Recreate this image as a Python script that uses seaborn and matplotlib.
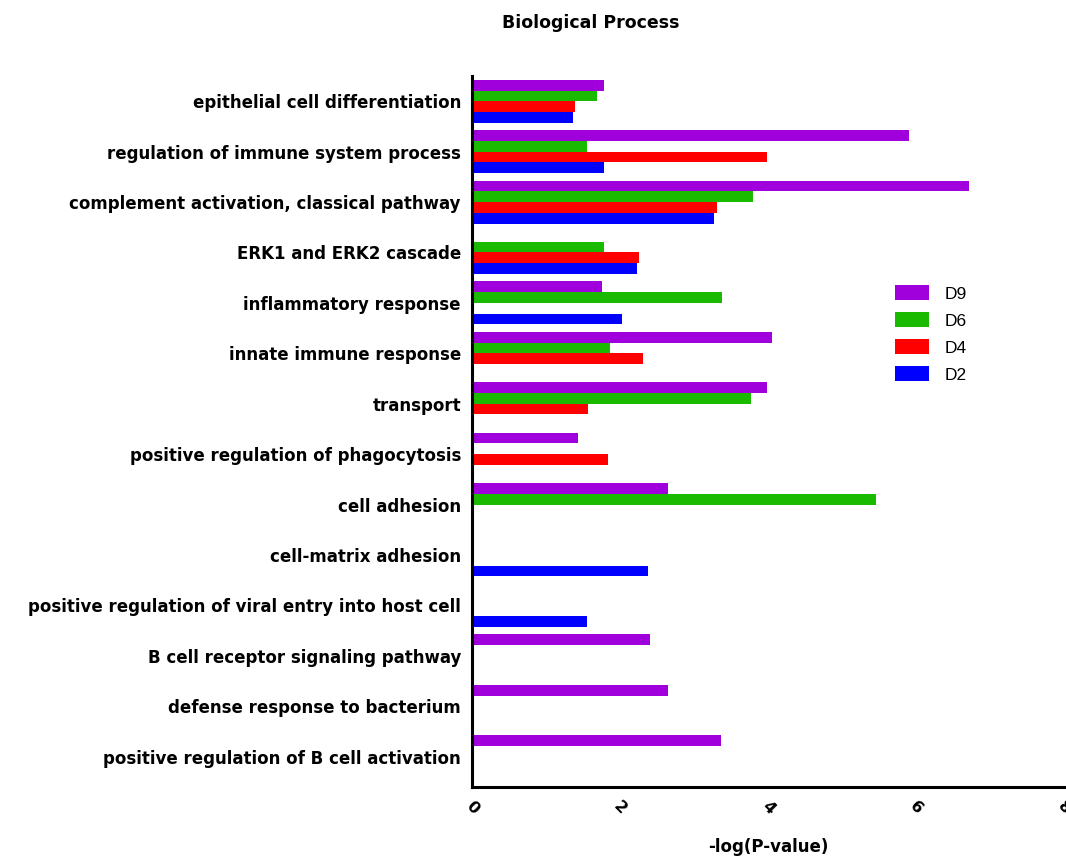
import matplotlib
matplotlib.use("Agg")
import matplotlib.pyplot as plt
import seaborn as sns
import numpy as np
import pandas as pd

nan = np.nan

categories = [
    "epithelial cell differentiation",
    "regulation of immune system process",
    "complement activation, classical pathway",
    "ERK1 and ERK2 cascade",
    "inflammatory response",
    "innate immune response",
    "transport",
    "positive regulation of phagocytosis",
    "cell adhesion",
    "cell-matrix adhesion",
    "positive regulation of viral entry into host cell",
    "B cell receptor signaling pathway",
    "defense response to bacterium",
    "positive regulation of B cell activation",
]

groups = ["D9", "D6", "D4", "D2"]
d9 = [1.78, 5.90, 6.71, nan, 1.76, 4.05, 3.98, 1.43, 2.64, nan, nan, 2.41, 2.64, 3.36]
d6 = [1.69, 1.55, 3.79, 1.78, 3.38, 1.86, 3.77, nan, 5.46, nan, nan, nan, nan, nan]
d4 = [1.39, 3.99, 3.31, 2.26, nan, 2.31, 1.57, 1.83, nan, nan, nan, nan, nan, nan]
d2 = [1.37, 1.78, 3.27, 2.23, 2.03, nan, nan, nan, nan, 2.37, 1.55, nan, nan, nan]

x_ticks = [0, 2, 4, 6, 8]
colors = ["#A000DC", "#19BA00", "#FF0000", "#0000FF"]

rows = []
for g, vals in zip(groups, [d9, d6, d4, d2]):
    for c, v in zip(categories, vals):
        if not np.isnan(v):
            rows.append({"term": c, "group": g, "value": v})
df = pd.DataFrame(rows)

sns.set_style("white")
plt.rcParams["font.family"] = ["DejaVu Sans"]
plt.rcParams["text.color"] = "black"
plt.rcParams["axes.labelcolor"] = "black"
plt.rcParams["xtick.color"] = "black"
plt.rcParams["ytick.color"] = "black"

fig = plt.figure(figsize=(10.66, 8.58), dpi=100)
ax = fig.add_axes([0.4428, 0.0828, 0.5557, 0.8286])

sns.barplot(data=df, y="term", x="value", hue="group",
            order=categories, hue_order=groups, palette=colors,
            orient="h", width=0.85, dodge=True, errorbar=None,
            edgecolor="none", saturation=1, ax=ax)

ax.set_xlim(0, 8)
ax.set_ylim(13.6, -0.5)
ax.set_xticks(x_ticks)
ax.set_xticklabels([str(t) for t in x_ticks], rotation=-45, ha="center",
                   va="top", fontsize=11.5, fontweight="bold")
ax.set_yticks(range(len(categories)))
ax.set_yticklabels(categories, fontsize=12, fontweight="bold")
ax.set_ylabel("")
ax.set_xlabel("-log(P-value)", fontsize=12, fontweight="bold", va="center")
ax.xaxis.set_label_coords(0.5, -0.0845)

for side in ["top", "right"]:
    ax.spines[side].set_visible(False)
for side in ["left", "bottom"]:
    ax.spines[side].set_linewidth(2.2)
    ax.spines[side].set_color("black")
ax.tick_params(axis="both", which="major", direction="out", length=6,
               width=2.2, color="black", pad=2)
ax.tick_params(axis="x", pad=2)

leg = ax.legend(loc="upper left", bbox_to_anchor=(0.8247, 0.6855),
                bbox_transform=fig.transFigure, frameon=False,
                prop={"family": "Liberation Sans", "size": 12.5},
                handlelength=2.0, handleheight=0.9,
                labelspacing=0.62, handletextpad=0.9)

fig.text(0.554, 0.973, "Biological Process", ha="center", va="center",
         fontsize=12.5, fontweight="bold")

fig.savefig("out.png", dpi=100, facecolor="white")
